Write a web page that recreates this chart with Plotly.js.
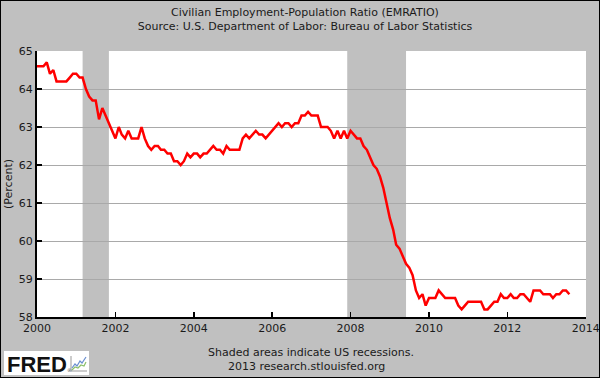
<!DOCTYPE html>
<html><head><meta charset="utf-8">
<script src="https://cdn.plot.ly/plotly-3.0.1.min.js"></script>
<style>
html,body{margin:0;padding:0;background:#c0c0c0;}
#chart{width:598px;height:376px;border:1px solid #000;}
</style></head><body><div id="chart"></div>
<script>
// Monthly Civilian Employment-Population Ratio (percent), Jan 2000 - Aug 2013
const years = [2000,2001,2002,2003,2004,2005,2006,2007,2008,2009,2010,2011,2012,2013];
const v2000 = [64.6,64.6,64.6,64.7,64.4,64.5,64.2,64.2,64.2,64.2,64.3,64.4];
const v2001 = [64.4,64.3,64.3,64.0,63.8,63.7,63.7,63.2,63.5,63.3,63.1,62.9];
const v2002 = [62.7,63.0,62.8,62.7,62.9,62.7,62.7,62.7,63.0,62.7,62.5,62.4];
const v2003 = [62.5,62.5,62.4,62.4,62.3,62.3,62.1,62.1,62.0,62.1,62.3,62.2];
const v2004 = [62.3,62.3,62.2,62.3,62.3,62.4,62.5,62.4,62.4,62.3,62.5,62.4];
const v2005 = [62.4,62.4,62.4,62.7,62.8,62.7,62.8,62.9,62.8,62.8,62.7,62.8];
const v2006 = [62.9,63.0,63.1,63.0,63.1,63.1,63.0,63.1,63.1,63.3,63.3,63.4];
const v2007 = [63.3,63.3,63.3,63.0,63.0,63.0,62.9,62.7,62.9,62.7,62.9,62.7];
const v2008 = [62.9,62.8,62.7,62.7,62.5,62.4,62.2,62.0,61.9,61.7,61.4,61.0];
const v2009 = [60.6,60.3,59.9,59.8,59.6,59.4,59.3,59.1,58.7,58.5,58.6,58.3];
const v2010 = [58.5,58.5,58.5,58.7,58.6,58.5,58.5,58.5,58.5,58.3,58.2,58.3];
const v2011 = [58.4,58.4,58.4,58.4,58.4,58.2,58.2,58.3,58.4,58.4,58.6,58.5];
const v2012 = [58.5,58.6,58.5,58.5,58.6,58.6,58.5,58.4,58.7,58.7,58.7,58.6];
const v2013 = [58.6,58.6,58.5,58.6,58.6,58.7,58.7,58.6];
const yearly = [v2000,v2001,v2002,v2003,v2004,v2005,v2006,v2007,v2008,v2009,v2010,v2011,v2012,v2013];

const recessionStarts = ['2001-03-01','2007-12-01'];
const recessionEnds   = ['2001-11-01','2009-06-01'];
const yTickVals = [58,59,60,61,62,63,64,65];
const xTickDates = ['2000-01-01','2002-01-01','2004-01-01','2006-01-01','2008-01-01','2010-01-01','2012-01-01','2014-01-01'];
const xTickText = ['2000','2002','2004','2006','2008','2010','2012','2014'];

const dates = [], values = [];
years.forEach((yr, i) => {
  yearly[i].forEach((v, m) => {
    dates.push(yr + '-' + String(m + 1).padStart(2, '0') + '-01');
    values.push(v);
  });
});

const FW = 598, FH = 376;
const M = {l: 36, r: 13, t: 50, b: 60};
const W = FW - M.l - M.r, H = FH - M.t - M.b;
const px = p => (p - 1 - M.l) / W;
const py = p => 1 - (p - 1 - M.t) / H;

const font = {family: 'DejaVu Sans', size: 11, color: '#1a1a1a'};

const shapes = recessionStarts.map((s, i) => ({
  type: 'rect', xref: 'x', yref: 'paper', x0: s, x1: recessionEnds[i], y0: 0, y1: 1,
  fillcolor: '#c0c0c0', line: {width: 0}, layer: 'between'
}));
// FRED logo box and icon (decoration)
shapes.push({type: 'rect', xref: 'paper', yref: 'paper', x0: px(4), x1: px(89), y0: py(375), y1: py(351),
  fillcolor: '#ffffff', line: {width: 0}, layer: 'above'});
const pth = pts => 'M ' + pts.map(p => px(p[0]) + ',' + py(p[1])).join(' L ');
shapes.push({type: 'path', xref: 'paper', yref: 'paper', path: pth([[71,371],[87,371]]) , line: {color: '#999999', width: 1}, layer: 'above'});
shapes.push({type: 'path', xref: 'paper', yref: 'paper', path: pth([[71,356],[71,371]]) , line: {color: '#999999', width: 1}, layer: 'above'});
shapes.push({type: 'path', xref: 'paper', yref: 'paper', path: pth([[72,368],[75,364],[77,366],[80,361],[82,363],[86,357]]), line: {color: '#6a8fd0', width: 1.2}, layer: 'above'});
shapes.push({type: 'path', xref: 'paper', yref: 'paper', path: pth([[72,370],[75,367],[78,368],[81,365],[84,366],[86,362]]), line: {color: '#8cc06a', width: 1.2}, layer: 'above'});

const trace = {
  x: dates, y: values, type: 'scatter', mode: 'lines',
  line: {color: '#ff0000', width: 2.5}, hoverinfo: 'x+y'
};

const layout = {
  width: FW, height: FH,
  margin: M,
  paper_bgcolor: '#c0c0c0', plot_bgcolor: '#ffffff',
  font: font,
  showlegend: false,
  title: {
    text: 'Civilian Employment-Population Ratio (EMRATIO)<br>Source: U.S. Department of Labor: Bureau of Labor Statistics',
    font: {family: 'DejaVu Sans', size: 11, color: '#1a1a1a'},
    x: (305 - 1) / FW, xanchor: 'center', xref: 'container',
    y: 1 - (16 - 1) / FH, yanchor: 'top', yref: 'container'
  },
  xaxis: {
    type: 'date', range: ['2000-01-01', '2014-01-03'],
    tickvals: xTickDates, ticktext: xTickText,
    ticks: 'inside', ticklen: 5, tickwidth: 1.5, tickcolor: '#000',
    showline: true, linecolor: '#000', linewidth: 2,
    showgrid: false, zeroline: false, fixedrange: true,
    ticklabeloverflow: 'allow',
    tickfont: font
  },
  yaxis: {
    range: [58, 65], tickvals: yTickVals,
    ticks: 'inside', ticklen: 5, tickwidth: 1.5, tickcolor: '#000',
    showline: true, linecolor: '#000', linewidth: 2,
    showgrid: true, gridcolor: '#a9a9a9', gridwidth: 1,
    zeroline: false, fixedrange: true,
    tickfont: font,
    title: {text: '(Percent)', font: font, standoff: 4}
  },
  shapes: shapes,
  annotations: [
    {text: 'Shaded areas indicate US recessions.', xref: 'paper', yref: 'paper',
     x: px(310.5), y: py(352), xanchor: 'center', yanchor: 'middle', showarrow: false, font: font},
    {text: '2013 research.stlouisfed.org', xref: 'paper', yref: 'paper',
     x: px(306.5), y: py(366), xanchor: 'center', yanchor: 'middle', showarrow: false, font: font},
    {text: '<b>FRED</b>', xref: 'paper', yref: 'paper',
     x: px(5), y: py(364), xanchor: 'left', yanchor: 'middle', showarrow: false,
     font: {family: 'Liberation Sans', size: 22, color: '#111111'}},
    {text: '®', xref: 'paper', yref: 'paper',
     x: px(65), y: py(370), xanchor: 'left', yanchor: 'middle', showarrow: false,
     font: {family: 'DejaVu Sans', size: 5, color: '#555555'}}
  ]
};

Plotly.newPlot('chart', [trace], layout, {displayModeBar: false, staticPlot: true});
</script></body></html>
